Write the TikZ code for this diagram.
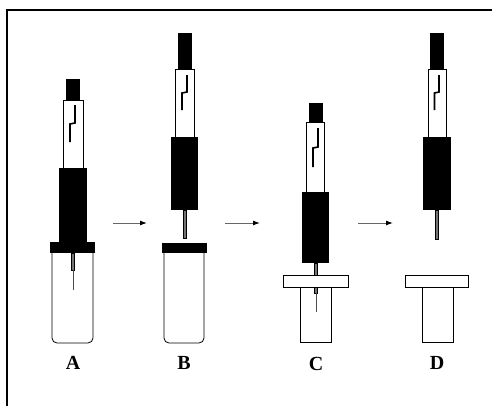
\documentclass[tikz,border=0pt]{standalone}
\usepackage{fontspec}
\setmainfont{Liberation Serif}
\usepackage{tikz}
\usetikzlibrary{arrows,arrows.meta,positioning,calc}

\begin{document}
\begin{tikzpicture}[x=1pt,y=-1pt,>=latex,
  outline/.style={draw=black,line width=0.8pt},
  plungertop/.style={fill=black},
  barrel/.style={outline,fill=white},
  syrbody/.style={fill=black},
  capblack/.style={fill=black},
  diskwhite/.style={outline,fill=white},
  vialwall/.style={outline,rounded corners=5pt},
  tubewall/.style={outline},
  needle/.style={fill=black!55,draw=black,line width=0.3pt},
  tip/.style={draw=black!70,line width=0.6pt},
  zig/.style={draw=black,line width=1.6pt},
  step arrow/.style={-{Latex[length=7pt,width=5pt,color=black]},draw=black!60,line width=1pt},
  stagelabel/.style={font=\fontsize{20}{22}\selectfont\bfseries,inner sep=0pt}]
\useasboundingbox (0,0) rectangle (492,405);
% frame
\draw[line width=2pt] (7,406) -- (7,10) -- (493,10);

% A: syringe through the cap into the vial
\begin{scope}
\fill[needle] (71.5,253) rectangle (74.5,270);
\draw[tip] (73,270) -- (73,290);
\fill[plungertop] (66,79) rectangle (80,100);
\draw[barrel] (63,100) rectangle (83,168);
\draw[zig] (75,105) -- (75,123) -- (70,124) -- (70,142);
\fill[syrbody] (59,168) rectangle (87,242);
\draw[vialwall] (52,253) -- (52,343) -- (93,343) -- (93,253);
\fill[capblack] (50,242) rectangle (95,253);
\node[stagelabel] (labA) at (73,363) {A};
\end{scope}

% B: plunger drawn back, needle out of the vial
\begin{scope}
\fill[needle] (183,210) rectangle (186,238);
\fill[plungertop] (178,33) rectangle (192,69);
\draw[barrel] (175,69) rectangle (194,137);
\draw[zig] (187,75) -- (187,92) -- (182,93) -- (182,110);
\fill[syrbody] (171,137) rectangle (198,210);
\draw[vialwall] (164,253) -- (164,343) -- (204,343) -- (204,253);
\fill[capblack] (162,243) rectangle (207,253);
\node[stagelabel] (labB) at (184,363) {B};
\end{scope}

% C: needle through the disk into the tube
\begin{scope}
\fill[needle] (314.5,263) rectangle (317.5,293);
\draw[tip] (316,293) -- (316,312);
\fill[plungertop] (309,103) rectangle (323,122);
\draw[barrel] (306,122) rectangle (324,192);
\draw[zig] (318,128) -- (318,147) -- (313,148) -- (313,167);
\fill[syrbody] (302,192) rectangle (329,263);
\draw[tubewall] (300,287) rectangle (331,342);
\draw[diskwhite] (283,275) rectangle (348,287);
\node[stagelabel] (labC) at (316,364) {C};
\end{scope}

% D: syringe withdrawn
\begin{scope}
\fill[needle] (435.5,210) rectangle (438.5,239);
\fill[plungertop] (430,33) rectangle (444,69);
\draw[barrel] (428,69) rectangle (446,137);
\draw[zig] (439,75) -- (439,92) -- (434.5,93) -- (434.5,110);
\fill[syrbody] (423,137) rectangle (451,210);
\draw[tubewall] (422,287) rectangle (453,342);
\draw[diskwhite] (405,275) rectangle (468,287);
\node[stagelabel] (labD) at (437,363) {D};
\end{scope}

% steps
\coordinate (ab1) at (113,223);
\coordinate (ab2) at (147,223);
\coordinate (bc1) at (225,223);
\coordinate (bc2) at (260,223);
\coordinate (cd1) at (358,223);
\coordinate (cd2) at (393,223);
\draw[step arrow] (ab1) -- (ab2);
\draw[step arrow] (bc1) -- (bc2);
\draw[step arrow] (cd1) -- (cd2);
\end{tikzpicture}
\end{document}
